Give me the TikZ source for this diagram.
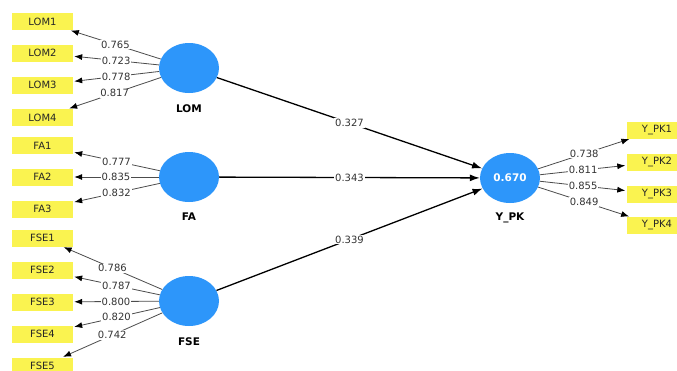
\documentclass[tikz,border=0pt]{standalone}
\usepackage{fontspec}
\setmainfont{DejaVu Sans}
\usepackage{tikz}
\usetikzlibrary{shapes.geometric, arrows.meta}

\definecolor{latblue}{RGB}{45,150,250}
\definecolor{indyellow}{RGB}{250,243,80}

\tikzset{
    latent/.style={ellipse, fill=latblue, minimum width=60pt, minimum height=50pt, inner sep=0pt},
    ind/.style={fill=indyellow, minimum width=61pt, minimum height=17pt, inner sep=0pt, font=\fontsize{10}{10}\selectfont, text=black!85},
    lab/.style={font=\fontsize{10.5}{10.5}\selectfont\bfseries},
    load/.style={draw=black!70, line width=0.8pt, -{Latex[length=8pt, width=6pt, black]}, shorten >=1pt},
    path/.style={draw=black, line width=1.3pt, -{Latex[length=10pt, width=7pt]}},
    val/.style={fill=white, inner sep=0.8pt, font=\fontsize{10}{10}\selectfont, text=black!80}
}

\begin{document}
\begin{tikzpicture}[x=1pt, y=-1pt]
    \useasboundingbox (0, 0) rectangle (677, 370);
    \clip (0, 0) rectangle (677, 370);
    \fill[white] (0, 0) rectangle (677, 370);

    % Latent variables
    \node[latent] (lom) at (189, 68) {};
    \node[latent] (fa) at (189, 177) {};
    \node[latent] (fse) at (189, 301) {};
    \node[latent, text=white, font=\fontsize{10.5}{10.5}\selectfont\bfseries] (ypk) at (510, 178) {0.670};
    \node[lab] (lomlab) at (189, 109) {LOM};
    \node[lab] (falab) at (189, 217) {FA};
    \node[lab] (fselab) at (189, 342) {FSE};
    \node[lab] (ypklab) at (510, 218) {Y\_PK};

    % Indicators of LOM
    \node[ind] (lom1) at (42.5, 21.5) {LOM1};
    \node[ind] (lom2) at (42.5, 53) {LOM2};
    \node[ind] (lom3) at (42.5, 85) {LOM3};
    \node[ind] (lom4) at (42.5, 117.5) {LOM4};
    \draw[load] (lom) -- node[val] {0.765} (lom1);
    \draw[load] (lom) -- node[val] {0.723} (lom2);
    \draw[load] (lom) -- node[val] {0.778} (lom3);
    \draw[load] (lom) -- node[val] {0.817} (lom4);

    % Indicators of FA
    \node[ind] (fa1) at (42.5, 145.5) {FA1};
    \node[ind] (fa2) at (42.5, 177) {FA2};
    \node[ind] (fa3) at (42.5, 209) {FA3};
    \draw[load] (fa) -- node[val] {0.777} (fa1);
    \draw[load] (fa) -- node[val] {0.835} (fa2);
    \draw[load] (fa) -- node[val] {0.832} (fa3);

    % Indicators of FSE
    \node[ind] (fse1) at (42.5, 238) {FSE1};
    \node[ind] (fse2) at (42.5, 270) {FSE2};
    \node[ind] (fse3) at (42.5, 302) {FSE3};
    \node[ind] (fse4) at (42.5, 334) {FSE4};
    \node[ind] (fse5) at (42.5, 366) {FSE5};
    \draw[load] (fse) -- node[val] {0.786} (fse1);
    \draw[load] (fse) -- node[val] {0.787} (fse2);
    \draw[load] (fse) -- node[val] {0.800} (fse3);
    \draw[load] (fse) -- node[val] {0.820} (fse4);
    \draw[load] (fse) -- node[val] {0.742} (fse5);

    % Indicators of Y_PK
    \node[ind] (ypk1) at (657, 130) {Y\_PK1};
    \node[ind] (ypk2) at (657, 162) {Y\_PK2};
    \node[ind] (ypk3) at (657, 194) {Y\_PK3};
    \node[ind] (ypk4) at (657, 225.5) {Y\_PK4};
    \draw[load] (ypk) -- node[val] {0.738} (ypk1);
    \draw[load] (ypk) -- node[val] {0.811} (ypk2);
    \draw[load] (ypk) -- node[val] {0.855} (ypk3);
    \draw[load] (ypk) -- node[val] {0.849} (ypk4);

    % Path coefficients
    \draw[path] (lom) -- node[val] {0.327} (ypk);
    \draw[path] (fa) -- node[val] {0.343} (ypk);
    \draw[path] (fse) -- node[val] {0.339} (ypk);
\end{tikzpicture}
\end{document}
